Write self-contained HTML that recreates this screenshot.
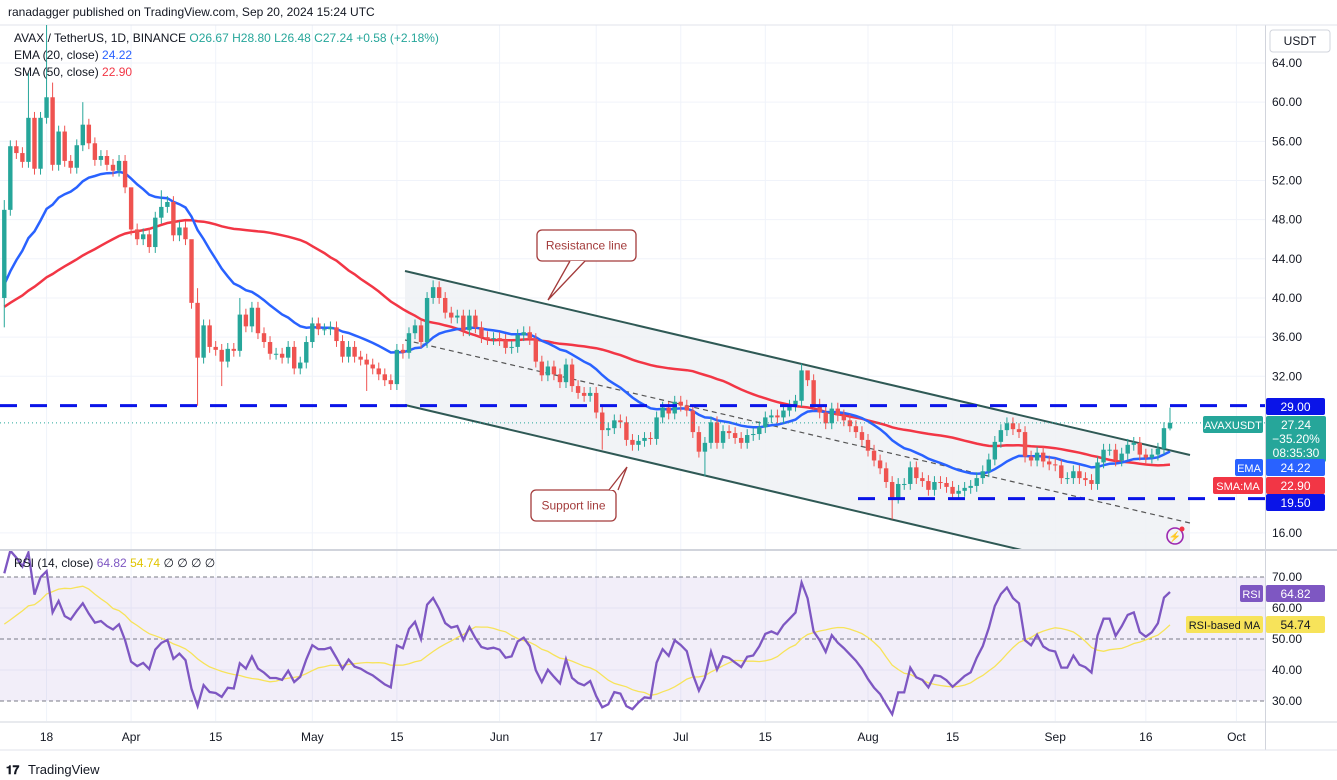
<!DOCTYPE html>
<html><head><meta charset="utf-8">
<style>
html,body{margin:0;padding:0;background:#fff;width:1337px;height:780px;overflow:hidden;font-family:"Liberation Sans",sans-serif;}
svg{position:absolute;left:0;top:0}
text{font-family:"Liberation Sans",sans-serif}
</style></head>
<body>
<svg id="chart" width="1337" height="780" xmlns="http://www.w3.org/2000/svg"></svg>
<script>
// ---- data ----
const priorCloses=[35,36,35.5,34,33,34.5,36,37,36.5,35,36,37.5,38,39,38.5,37,36,37,38,39,40,41,40.5,39,38,39.5,40,41,42,41.5,40,39,40,41,42.5,43,42,41,40.5,41,42,40,38,39,40,41,42,41,42];
const closes=[49,55.5,54.8,53.9,58.4,53.2,58.4,60.5,53.6,57,54,53.3,55.6,57.7,55.8,54.1,54.5,53.6,53,54,51.3,47,46,46.5,45.2,48.2,49.3,49.8,46.4,47.2,46,39.5,33.9,37.2,35,34.7,33.5,34.8,34.6,38.3,37.1,39,36.4,35.5,34.3,34.3,33.9,35,32.8,33.4,35.5,37.4,36.8,36.8,37,35.6,34,35,34,33.7,33.2,32.8,32.2,31.6,31.2,
34.7,34.4,36.4,37.2,35.5,40,41.1,40,38.5,38,38.2,36.7,38.2,37,36,35.8,35.9,35.7,34.9,35,36.2,36.5,35.8,33.5,32.1,33,32.2,31.4,33.2,31,30.3,30,30.3,28.3,26.5,26.7,27.5,27.3,25.5,25,25.4,25.7,25.6,27.8,28.8,28.2,29.4,29,28.5,26.3,24.3,25.2,27.3,25.2,26.4,26.2,25.7,25.2,26,26.1,26.8,27.8,28,27.8,28.5,29,29.5,
32.6,31.6,29.1,28.3,27.2,28.7,28,27.5,26.9,26.3,25.5,24.4,23.4,22.6,21.2,19.6,21,21,22.7,21.6,21.3,20.4,21.2,21.1,20.7,20,20.3,20.6,20.8,21.6,22.3,23.5,25.3,26.5,27.2,26.6,26.3,23.8,23.4,24.2,23.3,23,22.9,21.6,21.6,22.3,21.6,21.4,21,23.2,24.5,24.5,23.4,24.1,25,25.2,24,23.7,24,24.6,26.7,27.24];
const firstOpen=40;
const specialHighs={0:50,4:63,7:68,8:62,13:60,21:49,26:51,31:41,32:41,39:40,71:41.8,132:33.3,133:32.5};
const specialLows={0:37,32:29,36:31,60:30.5,99:24.5,116:21.8,147:17.4,193:26.48};
const priceTicks=[64,60,56,52,48,44,40,36,32,16];
const rsiTicks=[70,60,50,40,30];
const dateLabels=["18","Apr","15","May","15","Jun","17","Jul","15","Aug","15","Sep","16","Oct"];
const dateIdx=[7,21,35,51,65,82,98,112,126,143,157,174,189,204];
const resistanceLevel=29, supportLevel=19.5;

// ---- scales ----
const svg=document.getElementById('chart');
const NS='http://www.w3.org/2000/svg';
const N=closes.length;
const xOf=i=>1170-(N-1-i)*6.04;
const yP=p=>63+(64-p)*9.79;
const yR=v=>577+(70-v)*3.1;
function el(tag,attrs,parent){const e=document.createElementNS(NS,tag);for(const k in attrs)e.setAttribute(k,attrs[k]);(parent||svg).appendChild(e);return e;}
function txt(s,attrs,parent){const e=el('text',attrs,parent);e.textContent=s;return e;}

const defs=el('defs',{});
const cp=el('clipPath',{id:'pp'},defs);el('rect',{x:0,y:25,width:1265,height:524},cp);
const cr=el('clipPath',{id:'rp'},defs);el('rect',{x:0,y:551,width:1265,height:170},cr);

// grid
const grid=el('g',{});

priceTicks.forEach(p=>el('line',{x1:0,x2:1265,y1:yP(p),y2:yP(p),stroke:'#f0f3fa','stroke-width':1},grid));
rsiTicks.forEach(v=>{if(v==60||v==40)el('line',{x1:0,x2:1265,y1:yR(v),y2:yR(v),stroke:'#f0f3fa'},grid);});
dateIdx.forEach(i=>{el('line',{x1:xOf(i),x2:xOf(i),y1:25,y2:549,stroke:'#f0f3fa'},grid);el('line',{x1:xOf(i),x2:xOf(i),y1:551,y2:721,stroke:'#f0f3fa'},grid);});

el('line',{x1:1265.5,x2:1265.5,y1:25,y2:750,stroke:'#d1d4dc'});
el('line',{x1:0,x2:1337,y1:550,y2:550,stroke:'#d1d4dc','stroke-width':2});
el('line',{x1:0,x2:1337,y1:722,y2:722,stroke:'#d1d4dc'});
el('line',{x1:0,x2:1337,y1:750,y2:750,stroke:'#e0e3eb'});
el('line',{x1:0,x2:1337,y1:25,y2:25,stroke:'#e0e3eb'});

// channel
const pg=el('g',{'clip-path':'url(#pp)'});
const ch=el('polygon',{points:'405,271 1190,455 1190,590 405,405',fill:'#f0f2f5',opacity:0.9},pg);

const up=el('line',{x1:405,y1:271,x2:1190,y2:455,stroke:'#2f5955','stroke-width':2},pg);

const lo=el('line',{x1:405,y1:405,x2:1060,y2:559,stroke:'#2f5955','stroke-width':2},pg);

const md=el('line',{x1:405,y1:340,x2:1190,y2:523,stroke:'#555','stroke-width':1.2,'stroke-dasharray':'5,4'},pg);


const h1=el('line',{x1:0,x2:1265,y1:yP(resistanceLevel),y2:yP(resistanceLevel),stroke:'#0a14e8','stroke-width':3,'stroke-dasharray':'17,13'});

const h2=el('line',{x1:858,x2:1265,y1:yP(supportLevel),y2:yP(supportLevel),stroke:'#0a14e8','stroke-width':3,'stroke-dasharray':'17,13'});

el('line',{x1:0,x2:1265,y1:yP(27.24),y2:yP(27.24),stroke:'#26a69a','stroke-width':1,'stroke-dasharray':'1,3'});

// moving averages
const all=priorCloses.concat(closes);
const P=priorCloses.length;
let ema=[],e=all[0];
all.forEach((c,k)=>{e=k==0?c:(c-e)*2/21+e;ema.push(e);});
const sma=all.map((c,k)=>{const s=all.slice(Math.max(0,k-49),k+1);return s.reduce((a,b)=>a+b,0)/s.length;});
function path(vals,fx,fy){return vals.map((v,i)=>(i?'L':'M')+fx(i).toFixed(1)+','+fy(v).toFixed(1)).join('');}
const smaP=el('path',{d:path(sma.slice(P),xOf,yP),fill:'none',stroke:'#f23645','stroke-width':2.5},pg);

const emaP=el('path',{d:path(ema.slice(P),xOf,yP),fill:'none',stroke:'#2962ff','stroke-width':2.5},pg);


// candles
const cg=el('g',{},pg);
for(let i=0;i<N;i++){
  const o=i==0?firstOpen:(i==N-1?26.67:closes[i-1]),c=closes[i];
  const col=c>=o?'#26a69a':'#ef5350';
  const h=specialHighs[i]!==undefined?specialHighs[i]:Math.max(o,c)+0.6;
  const l=specialLows[i]!==undefined?specialLows[i]:Math.min(o,c)-0.6;
  const hh=(i==N-1)?28.8:h;
  const g=el('g',{},cg);
  
  
  el('line',{x1:xOf(i),x2:xOf(i),y1:yP(hh),y2:yP(l),stroke:col,'stroke-width':1},g);
  const t=yP(Math.max(o,c)),b=yP(Math.min(o,c));
  el('rect',{x:xOf(i)-2.2,y:t,width:4.4,height:Math.max(1,b-t),fill:col},g);
}

function callout(name,x,y,w,h,tip,base1,base2,label){
  const g=el('g',{});
  el('rect',{x,y,width:w,height:h,rx:5,fill:'#fff',stroke:'#a33b3b','stroke-width':1.3},g);
  el('polyline',{points:base1+' '+tip+' '+base2,fill:'#fff',stroke:'#a33b3b','stroke-width':1.3},g);
  txt(label,{x:x+w/2,y:y+h/2+4,'text-anchor':'middle','font-size':12,fill:'#a33b3b'},g);
}
callout('resistance-callout',537,230,99,31,'548,300','570,261','585,261','Resistance line');
callout('support-callout',531,490,85,31,'627,467','609,490','618,490','Support line');

const li=el('g',{});
el('circle',{cx:1175,cy:536,r:8,fill:'none',stroke:'#9c27b0','stroke-width':1.6},li);
txt('⚡',{x:1175,y:540,'text-anchor':'middle','font-size':10,fill:'#9c27b0'},li);
el('circle',{cx:1182,cy:529,r:2.5,fill:'#f23645'},li);

// RSI
const ch2=[];for(let k=1;k<all.length;k++)ch2.push(all[k]-all[k-1]);
let ag=0,al=0;const rsi=[];
for(let k=0;k<ch2.length;k++){const g=Math.max(ch2[k],0),l=Math.max(-ch2[k],0);
 if(k<14){ag+=g/14;al+=l/14;}else{ag=(ag*13+g)/14;al=(al*13+l)/14;}
 rsi.push(100-100/(1+ag/(al||1e-9)));}
const rsiFull=[50].concat(rsi);
const rsiMA=rsiFull.map((v,k)=>{const s=rsiFull.slice(Math.max(0,k-13),k+1);return s.reduce((a,b)=>a+b,0)/s.length;});
const rg=el('g',{'clip-path':'url(#rp)'});
const band=el('rect',{x:0,y:yR(70),width:1265,height:yR(30)-yR(70),fill:'#7e57c2',opacity:0.1},rg);

[70,50,30].forEach(v=>el('line',{x1:0,x2:1265,y1:yR(v),y2:yR(v),stroke:'#787b86','stroke-dasharray':'4,3','stroke-width':1},rg));
const rma=el('path',{d:path(rsiMA.slice(P),xOf,yR),fill:'none',stroke:'#f7e35a','stroke-width':1.3},rg);

const rl=el('path',{d:path(rsiFull.slice(P),xOf,yR),fill:'none',stroke:'#7e57c2','stroke-width':2.3},rg);


const ax=el('g',{});
priceTicks.forEach(p=>txt(p.toFixed(2),{x:1272,y:yP(p)+4,'font-size':12,fill:'#131722'},ax));
const ra=el('g',{});
rsiTicks.forEach(v=>txt(v.toFixed(2),{x:1272,y:yR(v)+4,'font-size':12,fill:'#131722'},ra));
const xa=el('g',{});
dateLabels.forEach((s,k)=>txt(s,{x:xOf(dateIdx[k]),y:741,'text-anchor':'middle','font-size':12,fill:'#131722'},xa));

const ub=el('g',{});
el('rect',{x:1270,y:30,width:60,height:22,rx:3,fill:'#fff',stroke:'#d1d4dc'},ub);
txt('USDT',{x:1300,y:45,'text-anchor':'middle','font-size':12,fill:'#131722'},ub);

function tag(name,x,y,w,h,fill,lines,col,fs){
  const g=el('g',{});
  el('rect',{x,y,width:w,height:h,rx:2,fill},g);
  lines.forEach((s,k)=>txt(s,{x:x+w/2,y:y+13+k*14,'text-anchor':'middle','font-size':fs||12,fill:col||'#fff'},g));
}
tag('level-29-label',1266,398,59,17,'#0a14e8',['29.00']);
tag('symbol-label',1203,416,60,17,'#26a69a',['AVAXUSDT'],null,11);
tag('last-price-label',1266,416,60,46,'#26a69a',['27.24','−35.20%','08:35:30']);
tag('ema-tag',1235,459,28,17,'#2962ff',['EMA'],null,11);
tag('ema-label',1266,459,59,17,'#2962ff',['24.22']);
tag('sma-tag',1213,477,50,17,'#f23645',['SMA:MA'],null,11);
tag('sma-label',1266,477,59,17,'#f23645',['22.90']);
tag('level-19-5-label',1266,494,59,17,'#0a14e8',['19.50']);
tag('rsi-tag',1240,585,23,17,'#7e57c2',['RSI'],null,11);
tag('rsi-label',1266,585,59,17,'#7e57c2',['64.82']);
tag('rsi-ma-tag',1186,616,77,17,'#f7e35a',['RSI-based MA'],'#131722',11);
tag('rsi-ma-label',1266,616,59,17,'#f7e35a',['54.74'],'#131722');

const hd=txt('ranadagger published on TradingView.com, Sep 20, 2024 15:24 UTC',{x:8,y:16,'font-size':12,fill:'#131722'});

const lg=el('g',{});
const t1=txt('',{x:14,y:42,'font-size':12,fill:'#131722'},lg);
t1.innerHTML='AVAX / TetherUS, 1D, BINANCE  <tspan fill="#26a69a">O26.67  H28.80  L26.48  C27.24  +0.58 (+2.18%)</tspan>';
const t2=txt('',{x:14,y:59,'font-size':12,fill:'#131722'},lg);t2.innerHTML='EMA (20, close) <tspan fill="#2962ff">24.22</tspan>';
const t3=txt('',{x:14,y:76,'font-size':12,fill:'#131722'},lg);t3.innerHTML='SMA (50, close) <tspan fill="#f23645">22.90</tspan>';
const t4=txt('',{x:14,y:567,'font-size':12,fill:'#131722'},lg);t4.innerHTML='RSI (14, close) <tspan fill="#7e57c2">64.82</tspan> <tspan fill="#e0c400">54.74</tspan> ∅ ∅ ∅ ∅';
const tv=el('g',{});
txt('𝟏𝟕',{x:6,y:774,'font-size':12,'font-weight':'bold',fill:'#131722'},tv);
txt('TradingView',{x:28,y:774,'font-size':13,fill:'#131722'},tv);
</script>
</body></html>
